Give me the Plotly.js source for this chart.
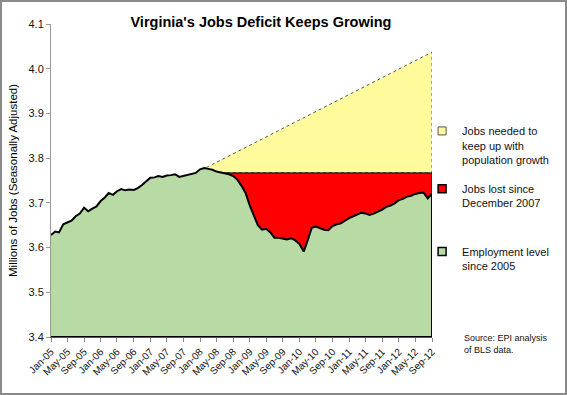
<!DOCTYPE html>
<html>
<head>
<meta charset="utf-8">
<script src="https://cdn.plot.ly/plotly-3.0.1.min.js"></script>
<style>
  html, body { margin: 0; padding: 0; background: #fff; }
  #wrap { width: 563px; height: 391px; border: 2px solid #8a8a8a; }
  #chart { width: 563px; height: 391px; }
</style>
</head>
<body>
<div id="wrap"><div id="chart"></div></div>
<script>
// ---- Data ----
const startMonth = '2005-01';          // first month of the series (Jan-05)
// Virginia employment level, millions of jobs, seasonally adjusted, Jan-05 .. Sep-12
const employment = [
  3.628, 3.636, 3.634, 3.652, 3.656, 3.660, 3.670, 3.676, 3.689, 3.681, 3.687, 3.692,   // 2005
  3.704, 3.712, 3.722, 3.718, 3.726, 3.731, 3.728, 3.730, 3.729, 3.733, 3.740, 3.748,   // 2006
  3.756, 3.757, 3.760, 3.758, 3.761, 3.762, 3.764, 3.758, 3.760, 3.763, 3.765, 3.767,   // 2007
  3.775, 3.778, 3.776, 3.774, 3.770, 3.768, 3.766, 3.764, 3.760, 3.752, 3.738, 3.722,   // 2008
  3.694, 3.672, 3.650, 3.640, 3.642, 3.634, 3.622, 3.622, 3.620, 3.618, 3.621, 3.616,   // 2009
  3.608, 3.591, 3.615, 3.644, 3.647, 3.643, 3.640, 3.639, 3.648, 3.652, 3.654, 3.660,   // 2010
  3.666, 3.670, 3.674, 3.678, 3.676, 3.673, 3.676, 3.680, 3.685, 3.691, 3.694, 3.699,   // 2011
  3.706, 3.709, 3.714, 3.716, 3.720, 3.722, 3.723, 3.710, 3.721                          // 2012 (to Sep)
];
// Dec-2007 employment level (top of the "jobs lost" area)
const dec2007Date = '2007-12-01';
const dec2007Level = 3.767;
// Jobs needed to keep up with population growth: straight line from Dec-07 to Sep-12
const neededDates = ['2007-12-01', '2012-09-01'];
const neededLevels = [3.767, 4.037];

const seriesNames = [
  'Jobs needed to<br>keep up with<br>population growth',
  'Jobs lost since<br>December 2007',
  'Employment level<br>since 2005'
];
const yRange = [3.4, 4.1];

// ---- Build month categories ----
const months = employment.map((v, i) => {
  const y0 = parseInt(startMonth.slice(0, 4), 10);
  const m0 = parseInt(startMonth.slice(5, 7), 10) - 1;
  const t = m0 + i;
  const yy = y0 + Math.floor(t / 12);
  const mm = (t % 12) + 1;
  return yy + '-' + String(mm).padStart(2, '0') + '-01';
});
const firstDate = months[0];
const lastDate = months[months.length - 1];

const COL_YELLOW = '#fffa9c';
const COL_RED = '#ff0000';
const COL_GREEN = '#b8dba6';

// Yellow area: between population-growth line and Dec-07 level
const yellow = {
  type: 'scatter', mode: 'lines',
  x: [neededDates[0], neededDates[1], neededDates[1], neededDates[0]],
  y: [neededLevels[0], neededLevels[1], dec2007Level, dec2007Level],
  fill: 'toself', fillcolor: COL_YELLOW,
  line: { color: '#555555', width: 1, dash: 'dot' },
  showlegend: false, hoverinfo: 'skip'
};
// Red area: below the Dec-07 level (covered by green where employment is higher)
const red = {
  type: 'scatter', mode: 'lines',
  x: [dec2007Date, lastDate, lastDate, dec2007Date],
  y: [dec2007Level, dec2007Level, yRange[0], yRange[0]],
  fill: 'toself', fillcolor: COL_RED,
  line: { color: '#000000', width: 1 },
  showlegend: false, hoverinfo: 'skip'
};
// Green area: employment level
const green = {
  type: 'scatter', mode: 'lines',
  x: months.concat([lastDate, firstDate]),
  y: employment.concat([yRange[0], yRange[0]]),
  fill: 'toself', fillcolor: COL_GREEN,
  line: { color: '#000000', width: 2 },
  showlegend: false, hoverinfo: 'skip'
};

// Legend entries (square swatches)
function legendEntry(name, color, lineColor, lineWidth, legendId) {
  return {
    type: 'scatter', mode: 'markers', x: [null], y: [null], name: name,
    marker: { symbol: 'square', size: 8, color: color, line: { color: lineColor, width: lineWidth } },
    legend: legendId, showlegend: true, hoverinfo: 'skip'
  };
}
const lgY = legendEntry(seriesNames[0], COL_YELLOW, '#555555', 1, 'legend');
const lgR = legendEntry(seriesNames[1], COL_RED, '#000000', 1.5, 'legend2');
const lgG = legendEntry(seriesNames[2], COL_GREEN, '#000000', 1.5, 'legend3');

const sans = 'Liberation Sans, Arial, sans-serif';
const legendFont = { family: sans, size: 11, color: '#111' };
function legendBox(y) {
  return {
    x: 0.974, xanchor: 'left', y: y, yanchor: 'top',
    bgcolor: 'rgba(0,0,0,0)', borderwidth: 0, font: legendFont,
    itemwidth: 30, valign: 'top', tracegroupgap: 0
  };
}

const layout = {
  width: 563, height: 391,
  margin: { l: 49, r: 133, t: 22, b: 56, pad: 0, autoexpand: false },
  paper_bgcolor: '#ffffff', plot_bgcolor: '#ffffff',
  title: {
    text: "<b>Virginia's Jobs Deficit Keeps Growing</b>",
    font: { family: sans, size: 14.5, color: '#000' },
    x: 0.46, xanchor: 'center', xref: 'container',
    y: 0.948, yanchor: 'middle', yref: 'container'
  },
  xaxis: {
    type: 'date',
    range: [firstDate, lastDate],
    tick0: firstDate, dtick: 'M4', tickformat: '%b-%y',
    tickangle: -45,
    ticks: 'outside', ticklen: 4, tickcolor: '#888', tickwidth: 1,
    showline: true, linecolor: '#555', linewidth: 1,
    showgrid: false, zeroline: false,
    tickfont: { family: sans, size: 10, color: '#111' },
    fixedrange: true
  },
  yaxis: {
    range: yRange, dtick: 0.1, tick0: 3.4, tickformat: '.1f',
    ticks: 'outside', ticklen: 4, tickcolor: '#999', tickwidth: 1,
    showline: true, linecolor: '#999', linewidth: 1,
    showgrid: false, zeroline: false,
    tickfont: { family: sans, size: 11, color: '#111' },
    title: {
      text: 'Millions of Jobs (Seasonally Adjusted)',
      font: { family: sans, size: 11.5, color: '#000' },
      standoff: 8
    },
    fixedrange: true
  },
  legend: legendBox(0.702),
  legend2: legendBox(0.517),
  legend3: legendBox(0.317),
  annotations: [{
    text: 'Source: EPI analysis<br>of BLS data.',
    xref: 'paper', yref: 'paper', x: 1.079, y: 0.02,
    xanchor: 'left', yanchor: 'top', align: 'left', showarrow: false,
    font: { family: sans, size: 9, color: '#111' }
  }],
  showlegend: true
};

Plotly.newPlot('chart', [yellow, red, green, lgY, lgR, lgG], layout, { staticPlot: true, displayModeBar: false });
</script>
</body>
</html>
